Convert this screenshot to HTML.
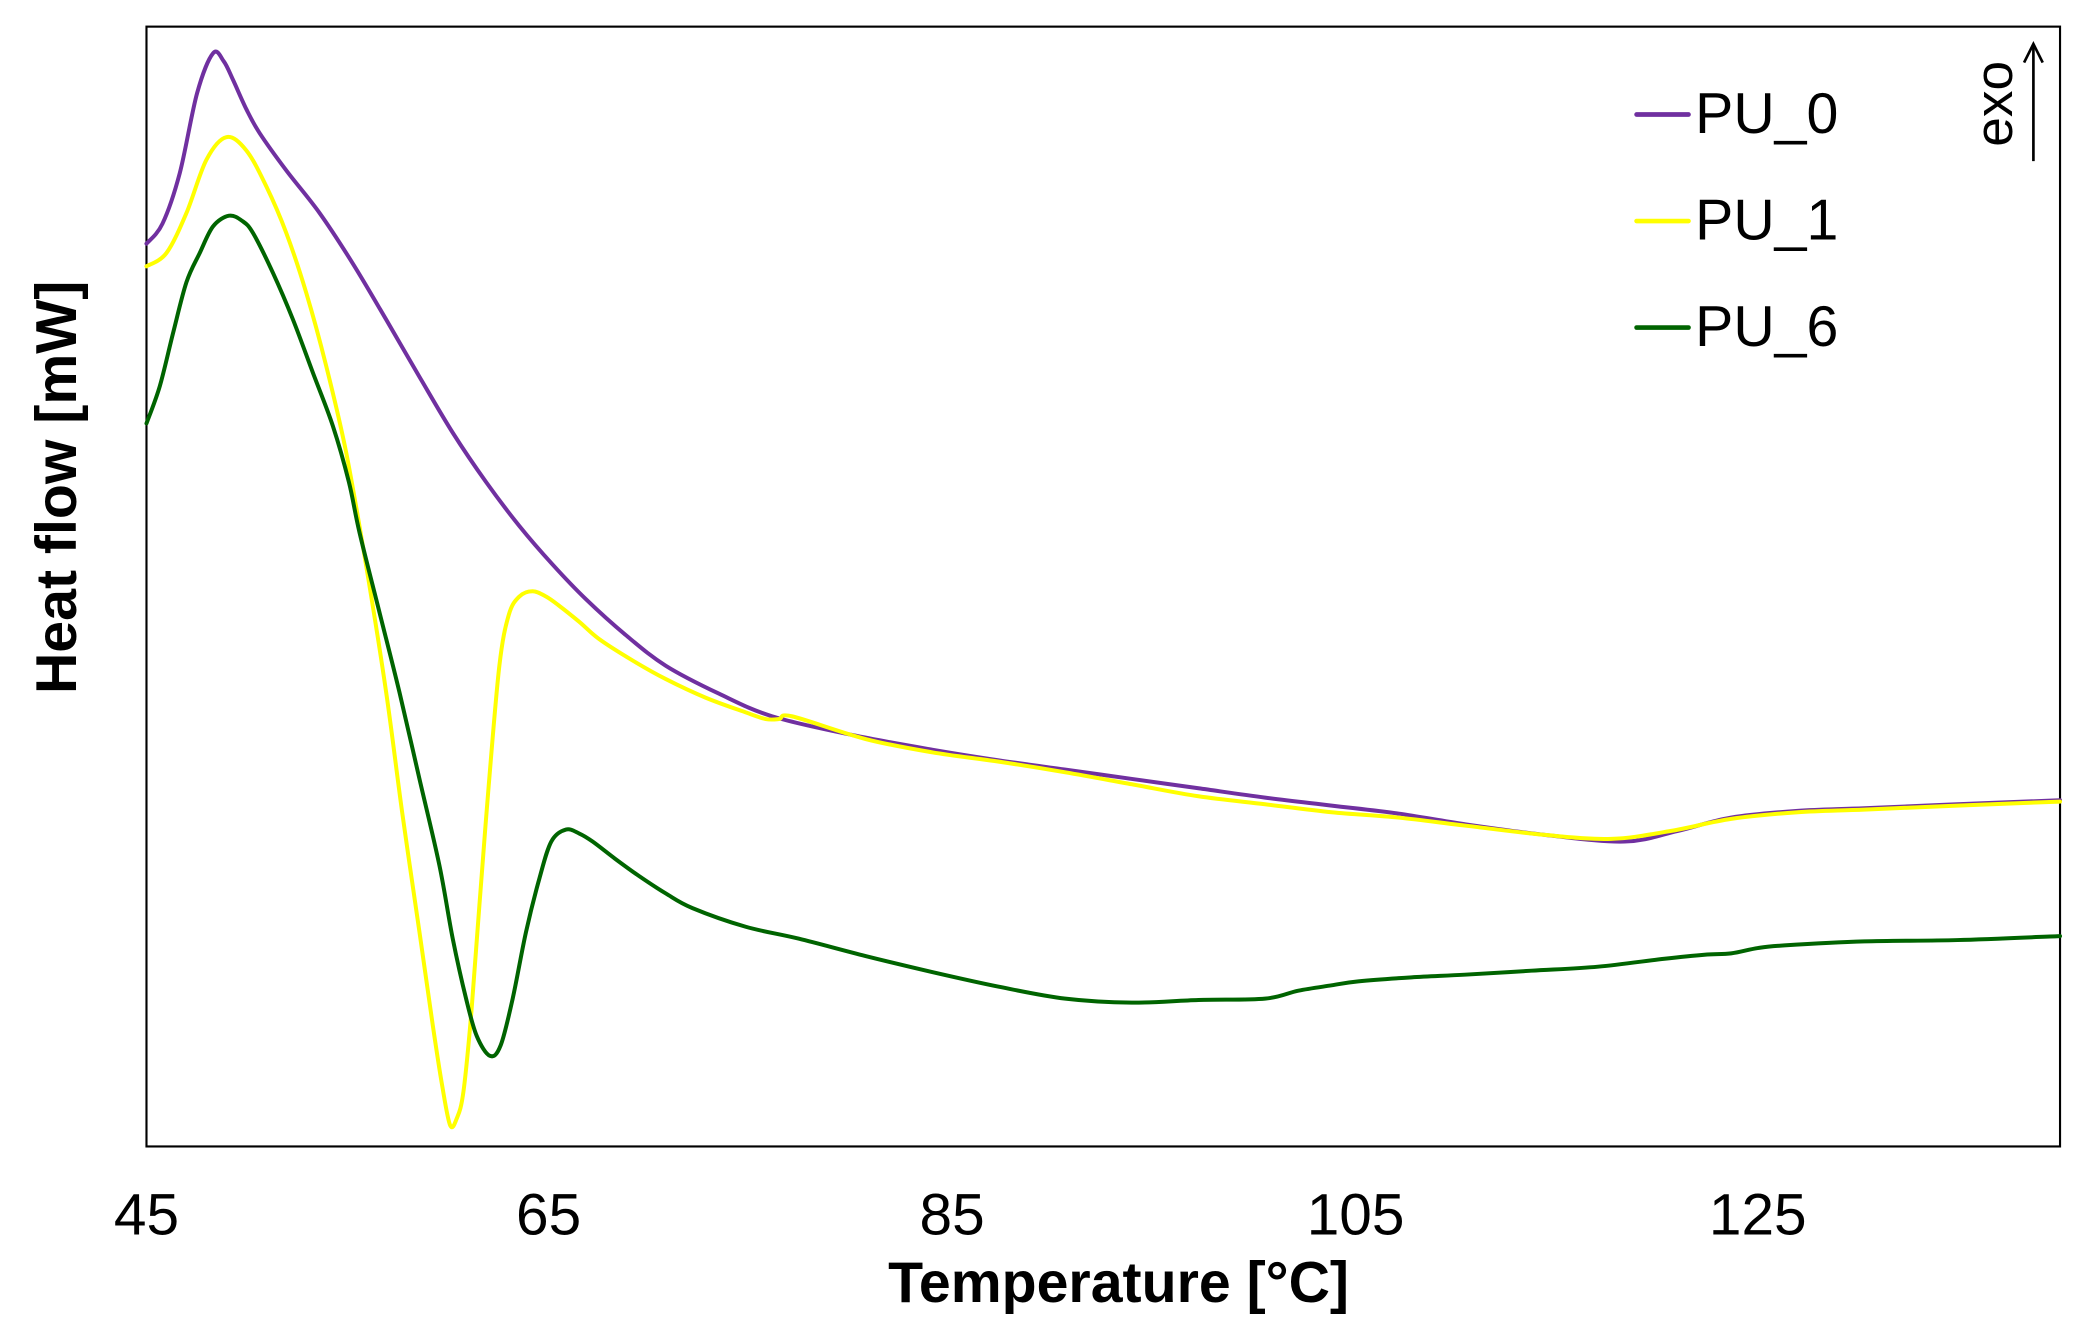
<!DOCTYPE html>
<html><head><meta charset="utf-8"><style>
html,body{margin:0;padding:0;background:#fff;}
svg{display:block;}
text{font-family:"Liberation Sans",Arial,sans-serif;fill:#000;}
</style></head><body>
<svg id="s" width="2088" height="1335" viewBox="0 0 1568 1002.6" preserveAspectRatio="none" xmlns="http://www.w3.org/2000/svg">
<rect x="0" y="0" width="1568" height="1003" fill="#fff"/>
<rect x="110" y="20" width="1437" height="841" fill="none" stroke="#000" stroke-width="1.6"/>
<g fill="none" stroke-width="3" stroke-linejoin="round" stroke-linecap="round">
<polyline class="c" stroke="#7030A0" points="110,183 122,168 135,130 148,70 160,40 168,46 175,60 185,82 195,100 215,128 240,160 265,198 290,240 315,283 340,325 365,362 390,395 415,424 440,450 470,477 500,500 540,521 580,538 640,552 700,563 750,571 800,578 850,585 900,592 950,599 1000,605 1050,611 1100,619 1160,627 1220,632 1260,624 1300,614 1350,609 1400,607 1470,604 1547,601"/>
<polyline class="c" stroke="#FFFF00" points="110,200 125,190 140,160 155,120 170,103 185,113 200,140 215,175 230,220 245,275 260,340 275,425 290,520 302,610 315,700 325,770 332,815 338,845 343,840 348,820 354,760 360,680 367,590 375,500 382,462 390,448 400,444 410,448 420,455 435,467 450,480 475,496 500,510 530,524 560,535 575,540 585,540 595,538 650,555 700,565 750,572 800,580 850,589 900,598 950,604 1000,610 1050,614 1100,620 1160,627 1210,630 1255,624 1300,615 1350,610 1400,608 1470,605 1547,602"/>
<polyline class="c" stroke="#006400" points="110,318 120,290 130,250 140,212 150,190 160,170 172,162 182,166 190,175 205,205 220,240 235,280 250,320 262,362 270,400 285,460 300,520 315,585 330,650 340,705 350,750 358,778 368,793 376,785 385,750 395,700 405,660 414,632 425,623 435,626 445,632 462,645 480,658 500,671 520,682 560,696 600,705 650,718 700,730 750,741 800,750 850,753 900,751 950,750 975,744 1000,740 1020,737 1060,734 1100,732 1150,729 1200,726 1250,720 1280,717 1300,716 1320,712 1340,710 1400,707 1470,706 1547,703"/>
</g>
<g font-size="44" text-anchor="middle">
<text x="110" y="927">45</text>
<text x="412" y="927">65</text>
<text x="715" y="927">85</text>
<text x="1018" y="927">105</text>
<text x="1320" y="927">125</text>
</g>
<text x="840" y="978" font-size="43" font-weight="bold" text-anchor="middle">Temperature [°C]</text>
<text transform="translate(57,366) rotate(-90)" font-size="43" font-weight="bold" text-anchor="middle">Heat flow [mW]</text>
<g stroke-width="3.5" stroke-linecap="round">
<line x1="1229" y1="86" x2="1268" y2="86" stroke="#7030A0"/>
<line x1="1229" y1="166" x2="1268" y2="166" stroke="#FFFF00"/>
<line x1="1229" y1="246" x2="1268" y2="246" stroke="#006400"/>
</g>
<g font-size="43">
<text x="1273" y="100">PU_0</text>
<text x="1273" y="180">PU_1</text>
<text x="1273" y="260">PU_6</text>
</g>
<text transform="translate(1511,78) rotate(-90)" font-size="40" text-anchor="middle">exo</text>
<line x1="1527" y1="121" x2="1527" y2="33" stroke="#000" stroke-width="2"/>
<polyline points="1520,47 1527,33 1534,47" fill="none" stroke="#000" stroke-width="2"/>
</svg>
<script>
document.querySelectorAll('polyline.c').forEach(function(pl){
  var p=pl.getAttribute('points').trim().split(/\s+/).map(function(s){return s.split(',').map(Number);});
  var d='M'+p[0][0]+','+p[0][1];
  for(var i=0;i<p.length-1;i++){
    var p0=p[i-1]||p[i],p1=p[i],p2=p[i+1],p3=p[i+2]||p2;
    var c1x=p1[0]+(p2[0]-p0[0])/6,c1y=p1[1]+(p2[1]-p0[1])/6;
    var c2x=p2[0]-(p3[0]-p1[0])/6,c2y=p2[1]-(p3[1]-p1[1])/6;
    d+=' C'+c1x+','+c1y+' '+c2x+','+c2y+' '+p2[0]+','+p2[1];
  }
  var path=document.createElementNS('http://www.w3.org/2000/svg','path');
  path.setAttribute('d',d);path.setAttribute('stroke',pl.getAttribute('stroke'));
  pl.parentNode.replaceChild(path,pl);
});
</script>
</body></html>
